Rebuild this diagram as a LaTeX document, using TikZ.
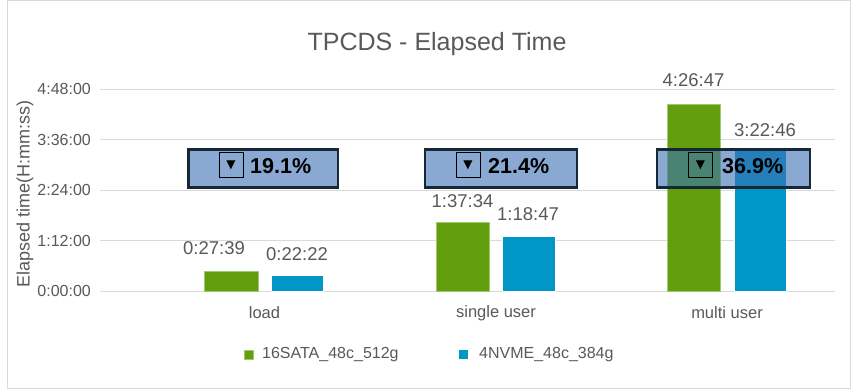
\documentclass[tikz,border=0pt]{standalone}
\usepackage{fontspec}
\setmainfont{Liberation Sans}
\newfontfamily\symfont{DejaVu Sans}
\definecolor{txtgray}{RGB}{89,89,89}
\definecolor{gridgray}{RGB}{217,217,217}
\definecolor{sata}{RGB}{99,158,15}
\definecolor{sataedge}{RGB}{160,200,110}
\definecolor{nvme}{RGB}{0,150,199}
\definecolor{boxfill}{RGB}{60,113,180}
\definecolor{boxedge}{RGB}{22,40,55}
\tikzset{
  ticklbl/.style={anchor=east, text=txtgray, font=\fontsize{16}{18}\selectfont, inner sep=0pt},
  vallbl/.style={text=txtgray, font=\fontsize{18.5}{20}\selectfont, inner sep=0pt},
  catlbl/.style={text=txtgray, font=\fontsize{16.5}{18}\selectfont, inner sep=0pt},
  grid line/.style={draw=gridgray, line width=0.8pt},
  satabar/.style={fill=sata, draw=sataedge, line width=0.8pt},
  nvmebar/.style={fill=nvme, draw=white, line width=0.5pt},
  pctbox/.style={fill=boxfill, fill opacity=0.6, draw=boxedge, draw opacity=1, line width=2.2pt},
  tribox/.style={draw=black, line width=1pt, minimum width=24pt, minimum height=24pt, inner sep=0pt, font=\symfont\fontsize{12}{13}\selectfont},
  pctlbl/.style={anchor=west, font=\bfseries\fontsize{21.5}{23}\selectfont, inner sep=0pt},
  legsq/.style={minimum size=9pt, inner sep=0pt},
  leglbl/.style={anchor=west, text=txtgray, font=\fontsize{16}{18}\selectfont, inner sep=0pt}
}
\begin{document}
\begin{tikzpicture}[x=1pt,y=-1pt]
\useasboundingbox (0,0) rectangle (858,390);
\fill[white] (0,0) rectangle (858,390);
\draw[gridgray, line width=1pt] (7.5,0.5) rectangle (850.5,388.5);
% title
\node[text=txtgray, font=\fontsize{25}{28}\selectfont] (title) at (437,44) {TPCDS - Elapsed Time};
% axis title
\node[rotate=90, text=txtgray, font=\fontsize{18}{20}\selectfont] (ytitle) at (25,194) {Elapsed time(H:mm:ss)};
% gridlines
\foreach \yy in {89,139.5,190,240.5} \draw[grid line] (100,\yy) -- (835,\yy);
\draw[grid line] (100,291) -- (835,291);
% ticks
\node[ticklbl] (t0) at (91,291) {0:00:00};
\node[ticklbl] (t1) at (91,240.5) {1:12:00};
\node[ticklbl] (t2) at (91,190) {2:24:00};
\node[ticklbl] (t3) at (91,139.5) {3:36:00};
\node[ticklbl] (t4) at (91,89) {4:48:00};
% bars
\draw[satabar] (204.5,271) rectangle (258,291);
\draw[nvmebar] (271.5,275) rectangle (323.5,291);
\draw[satabar] (436,222.5) rectangle (489,291);
\draw[nvmebar] (502.5,236) rectangle (555,291);
\draw[satabar] (667,104) rectangle (720,291);
\draw[nvmebar] (734,149) rectangle (786,291);
% value labels
\node[vallbl] (v1) at (214,248) {0:27:39};
\node[vallbl] (v2) at (297,254) {0:22:22};
\node[vallbl] (v3) at (462.5,201.5) {1:37:34};
\node[vallbl] (v4) at (528,214) {1:18:47};
\node[vallbl] (v5) at (693.5,80) {4:26:47};
\node[vallbl] (v6) at (765,130) {3:22:46};
% category labels
\node[catlbl] (c1) at (264.5,313) {load};
\node[catlbl] (c2) at (496,313) {single user};
\node[catlbl] (c3) at (727,313) {multi user};
% percentage boxes
\draw[pctbox] (188.5,149.5) rectangle (338,187.5);
\node[tribox] (tr1) at (231,165) {▼};
\node[pctlbl] (p1) at (250,166) {19.1\%};
\draw[pctbox] (425,149.5) rectangle (577,187.5);
\node[tribox] (tr2) at (468,165) {▼};
\node[pctlbl] (p2) at (488,166) {21.4\%};
\draw[pctbox] (657,149.5) rectangle (810,187.5);
\node[tribox] (tr3) at (700.5,165) {▼};
\node[pctlbl] (p3) at (722,166) {36.9\%};
% legend
\node[legsq, fill=sata, draw=sataedge] (l1) at (248.5,354.5) {};
\node[leglbl] (lt1) at (262,355) {16SATA\_48c\_512g};
\node[legsq, fill=nvme] (l2) at (463.5,354.5) {};
\node[leglbl] (lt2) at (479,355) {4NVME\_48c\_384g};
\end{tikzpicture}
\end{document}
